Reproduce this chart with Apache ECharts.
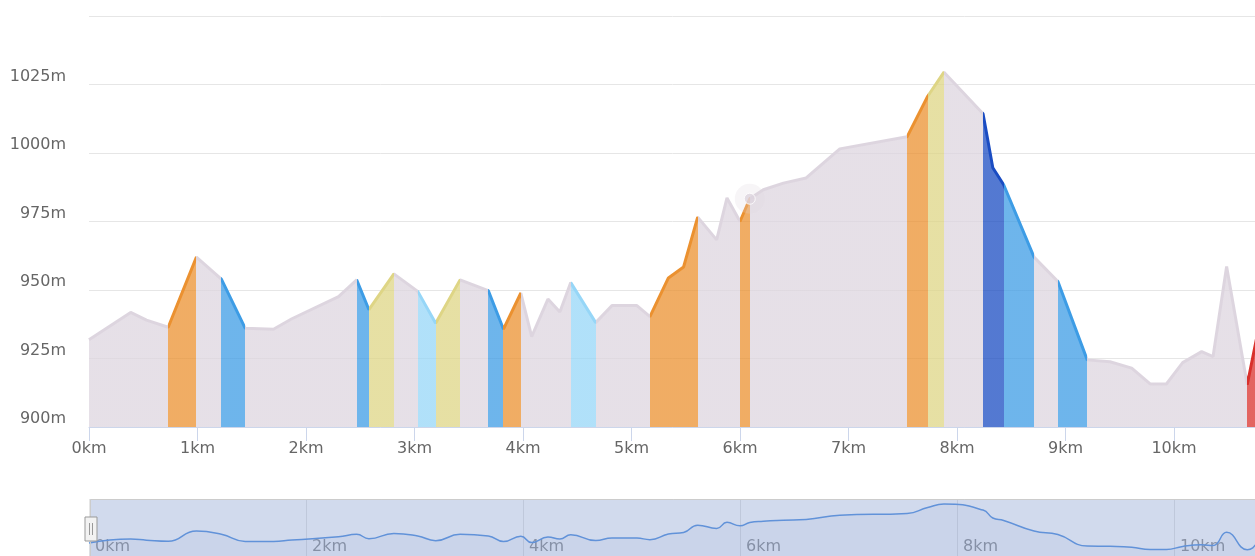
<!DOCTYPE html>
<html>
<head>
<meta charset="utf-8">
<title>Elevation profile</title>
<script src="https://cdn.jsdelivr.net/npm/echarts/dist/echarts.min.js"></script>
<style>
  html, body { margin: 0; padding: 0; background: #fff; }
  #chart { width: 1255px; height: 556px; }
</style>
</head>
<body>
<div id="chart"></div>
<script>
// distance along the route (km) and elevation (m)
const distKm = [0, 0.384, 0.53, 0.73, 0.99, 1.22, 1.44, 1.70, 1.87, 2.30, 2.467, 2.58, 2.81, 3.03, 3.195,
  3.42, 3.68, 3.82, 3.98, 4.08, 4.23, 4.34, 4.44, 4.67, 4.82, 5.05, 5.17, 5.34, 5.48, 5.61, 5.785, 5.88,
  6.0, 6.09, 6.215, 6.4, 6.61, 6.92, 7.54, 7.73, 7.88, 8.24, 8.33, 8.43, 8.71, 8.93, 9.2, 9.41, 9.61,
  9.78, 9.93, 10.08, 10.255, 10.36, 10.485, 10.675, 10.85, 11.0];
const elevM = [931.8, 941.8, 939, 936.4, 962, 954, 936, 935.7, 939.5, 947.6, 953.7, 942.8, 955.9, 949.5, 937.9,
  953.7, 949.8, 935.7, 948.9, 933, 946.7, 942, 952.7, 938.1, 944.3, 944.3, 940.3, 954.4, 958.4, 976.6, 968.3, 983.6,
  975, 983.3, 986.6, 989, 990.9, 1001.5, 1005.9, 1020.7, 1029.5, 1014.3, 994.6, 988.4, 962, 953.1, 924.5, 923.8, 921.5,
  915.7, 915.7, 923.5, 927.5, 925.7, 958.6, 915.4, 950, 955];

// slope zones along the distance axis
const zoneFrom = [0.73, 1.22, 2.467, 2.58, 3.03, 3.195, 3.68, 3.82, 4.44, 5.17, 6.0, 7.54, 7.73, 8.24, 8.43, 8.93, 10.675];
const zoneTo   = [0.99, 1.44, 2.58, 2.81, 3.195, 3.42, 3.82, 3.98, 4.67, 5.61, 6.09, 7.73, 7.88, 8.43, 8.71, 9.2, 11.0];
const zoneKind = ['climb', 'descent', 'descent', 'rise', 'dip', 'rise', 'descent', 'climb', 'dip', 'climb', 'climb',
  'climb', 'rise', 'drop', 'descent', 'descent', 'wall'];

// point that shows the hover marker
const hoverIdx = 33;

const kindColor = {
  rise: '#ded585',
  climb: '#eb9130',
  wall: '#d9312c',
  dip: '#96d6f7',
  descent: '#3d9ce5',
  drop: '#1a4cc2'
};
const flatColor = '#ddd5df';
const font = 'DejaVu Sans';

const profile = distKm.map((d, i) => [d, elevM[i]]);

const chart = echarts.init(document.getElementById('chart'), null, { renderer: 'canvas' });

chart.setOption({
  animation: false,
  grid: [
    { left: 89, right: -27.5, top: 16, bottom: 129, outerBoundsMode: 'none' },
    { left: 89, right: -27.5, top: 499, height: 60, outerBoundsMode: 'none' }
  ],
  xAxis: [
    {
      type: 'value',
      gridIndex: 0,
      min: 0,
      max: 11,
      interval: 1,
      axisLine: { show: true, lineStyle: { color: '#ccd6eb', width: 1 } },
      axisTick: { show: true, length: 14, lineStyle: { color: '#ccd6eb' } },
      splitLine: { show: false },
      axisLabel: { color: '#666666', fontSize: 16, fontFamily: font, margin: 14, formatter: v => v + 'km' }
    },
    {
      type: 'value',
      gridIndex: 1,
      position: 'top',
      min: 0,
      max: 11,
      interval: 2,
      axisLine: { show: false },
      axisTick: { show: false },
      splitLine: { show: true, lineStyle: { color: '#e6e6e6' } },
      axisLabel: {
        inside: true, margin: 40, align: 'left', padding: [0, 0, 0, 6],
        color: '#999999', fontSize: 16, fontFamily: font, formatter: v => v + 'km'
      }
    }
  ],
  yAxis: [
    {
      type: 'value',
      gridIndex: 0,
      min: 900,
      max: 1050,
      interval: 25,
      axisLine: { show: false },
      axisTick: { show: false },
      splitLine: { lineStyle: { color: '#e6e6e6' } },
      axisLabel: {
        color: '#666666', fontSize: 16, fontFamily: font, margin: 23,
        verticalAlign: 'bottom', showMaxLabel: false, formatter: v => v + 'm'
      }
    },
    { type: 'value', gridIndex: 1, min: 892, max: 1042, show: false, splitLine: { show: false } }
  ],
  visualMap: {
    type: 'piecewise',
    show: false,
    dimension: 0,
    seriesIndex: 0,
    pieces: zoneFrom.map((f, i) => ({ gte: f, lt: zoneTo[i], color: kindColor[zoneKind[i]] })),
    outOfRange: { color: flatColor }
  },
  dataZoom: [
    {
      type: 'slider',
      xAxisIndex: 0,
      left: 89,
      right: -27.5,
      top: 499,
      height: 60,
      start: 0,
      end: 100,
      showDataShadow: false,
      showDetail: false,
      brushSelect: false,
      moveHandleSize: 0,
      backgroundColor: 'rgba(0,0,0,0)',
      borderColor: '#cccccc',
      borderRadius: 0,
      fillerColor: 'rgba(102,133,194,0.3)',
      handleIcon: 'path://M0,0 H12 V24 H0 Z M4.5,6 V18 M7.5,6 V18',
      handleSize: 24,
      handleStyle: { color: '#f2f2f2', borderColor: '#999999', borderWidth: 1 }
    }
  ],
  series: [
    {
      type: 'line',
      xAxisIndex: 0,
      yAxisIndex: 0,
      data: profile,
      showSymbol: false,
      silent: true,
      lineStyle: { width: 3 },
      areaStyle: { opacity: 0.75 }
    },
    {
      // hover halo + marker
      type: 'scatter',
      xAxisIndex: 0,
      yAxisIndex: 0,
      silent: true,
      data: [profile[hoverIdx]],
      symbolSize: 30,
      itemStyle: { color: 'rgba(221,213,223,0.3)' },
      z: 3
    },
    {
      type: 'scatter',
      xAxisIndex: 0,
      yAxisIndex: 0,
      silent: true,
      data: [profile[hoverIdx]],
      symbolSize: 11,
      itemStyle: { color: flatColor, borderColor: '#ffffff', borderWidth: 1 },
      z: 4
    },
    {
      // navigator series
      type: 'line',
      xAxisIndex: 1,
      yAxisIndex: 1,
      data: profile,
      smooth: true,
      showSymbol: false,
      silent: true,
      lineStyle: { color: '#5f98e2', width: 1.5 },
      areaStyle: { color: '#335cad', opacity: 0.05 }
    }
  ]
});
</script>
</body>
</html>
